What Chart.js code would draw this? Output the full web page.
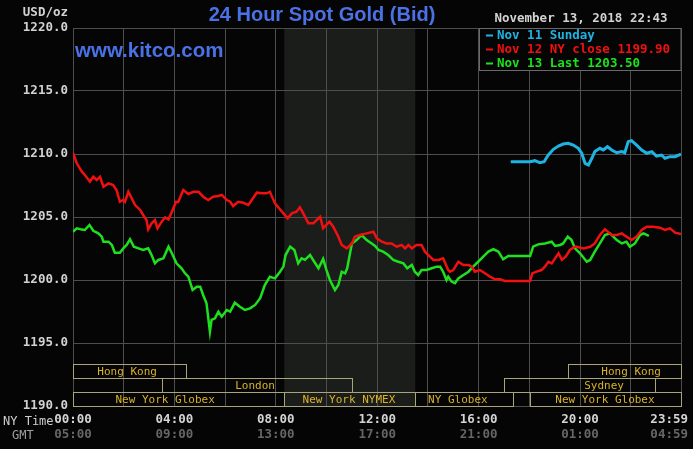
<!DOCTYPE html>
<html>
<head>
<meta charset="utf-8">
<script src="https://cdn.jsdelivr.net/npm/chart.js@4"></script>
<style>
  html, body { margin: 0; padding: 0; background: #050505; overflow: hidden; }
  canvas { display: block; }
</style>
</head>
<body>
<canvas id="goldChart" width="693" height="449"></canvas>
<script>
// ======= DATA (minutes after 00:00 NY time, USD/oz) =======
const cyanLabel = 'Nov 11 Sunday';
const redLabel = 'Nov 12 NY close 1199.90';
const greenLabel = 'Nov 13 Last 1203.50';

const cyanTimes = [1036,1082,1093,1105,1115,1125,1137,1149,1160,1172,1184,1196,1204,1212,1220,1228,1235,1247,1255,1265,1275,1287,1299,1306,1314,1322,1334,1346,1358,1370,1381,1393,1401,1413,1425,1439];
const cyanValues = [1209.39,1209.39,1209.47,1209.31,1209.39,1209.92,1210.37,1210.63,1210.79,1210.85,1210.71,1210.45,1210.06,1209.26,1209.13,1209.66,1210.19,1210.45,1210.32,1210.58,1210.32,1210.10,1210.19,1210.10,1210.98,1211.06,1210.71,1210.32,1210.06,1210.19,1209.84,1209.92,1209.66,1209.79,1209.79,1210.00];

const redTimes = [0,9,21,28,40,48,56,64,72,84,95,103,111,119,123,131,139,147,159,166,174,178,186,194,200,210,218,226,234,244,249,261,273,285,297,308,320,332,344,352,364,372,379,391,403,415,423,435,447,458,466,478,490,498,508,518,529,537,545,557,569,581,585,592,607,616,628,636,648,660,667,679,695,711,719,731,742,754,766,778,786,794,802,813,825,833,841,853,865,876,888,892,900,912,924,936,944,951,963,975,987,999,1011,1022,1038,1082,1087,1097,1109,1117,1125,1133,1141,1149,1157,1166,1176,1188,1192,1208,1224,1235,1247,1259,1267,1275,1287,1299,1310,1322,1334,1346,1358,1373,1389,1401,1413,1425,1439];
const redValues = [1210.10,1209.26,1208.60,1208.33,1207.80,1208.20,1207.94,1208.20,1207.40,1207.67,1207.54,1207.14,1206.21,1206.35,1206.20,1207.00,1206.48,1205.95,1205.56,1205.16,1204.76,1204.02,1204.50,1204.76,1204.10,1204.63,1204.97,1204.80,1205.42,1206.21,1206.20,1207.14,1206.83,1207.00,1207.00,1206.61,1206.35,1206.61,1206.67,1206.75,1206.35,1206.21,1205.87,1206.21,1206.13,1205.95,1206.35,1206.93,1206.88,1206.88,1207.00,1206.08,1205.61,1205.29,1204.90,1205.29,1205.42,1205.77,1205.29,1204.50,1204.50,1204.90,1205.02,1204.10,1204.63,1204.23,1203.44,1202.78,1202.51,1202.90,1203.44,1203.57,1203.70,1203.83,1203.30,1203.04,1202.90,1202.90,1202.64,1202.78,1202.51,1202.78,1202.51,1202.78,1202.78,1202.25,1201.98,1201.59,1201.59,1201.72,1200.79,1200.66,1200.79,1201.45,1201.19,1201.19,1201.06,1200.66,1200.79,1200.53,1200.26,1200.05,1200.05,1199.92,1199.92,1199.92,1200.53,1200.66,1200.79,1201.06,1201.45,1201.32,1201.72,1202.12,1201.60,1201.85,1202.38,1202.64,1202.64,1202.51,1202.64,1202.90,1203.57,1204.02,1203.80,1203.57,1203.57,1203.70,1203.44,1203.17,1203.44,1203.97,1204.23,1204.23,1204.15,1203.97,1204.10,1203.76,1203.65];

const greenTimes = [0,9,21,28,39,48,60,68,72,84,92,99,111,119,127,135,144,155,166,178,186,194,202,214,226,234,245,257,265,273,283,293,301,308,316,324,328,336,344,352,364,372,383,395,407,419,431,443,454,466,478,490,498,503,514,524,533,541,549,561,571,581,592,600,608,620,628,636,644,649,660,671,683,695,707,715,723,734,746,758,770,782,791,802,809,817,825,837,849,861,869,876,884,888,896,904,912,924,936,947,959,971,983,995,1007,1018,1030,1082,1089,1101,1117,1133,1141,1153,1160,1171,1180,1188,1200,1216,1224,1235,1247,1259,1271,1287,1299,1310,1318,1330,1342,1350,1363];
const greenValues = [1203.83,1204.10,1204.00,1203.97,1204.37,1203.91,1203.70,1203.44,1203.04,1203.04,1202.78,1202.17,1202.17,1202.51,1202.78,1203.23,1202.64,1202.51,1202.38,1202.51,1201.98,1201.32,1201.59,1201.72,1202.64,1202.12,1201.32,1200.93,1200.53,1200.26,1199.21,1199.47,1199.47,1198.81,1198.15,1195.90,1196.83,1196.96,1197.49,1197.09,1197.62,1197.49,1198.20,1197.88,1197.62,1197.75,1198.02,1198.55,1199.60,1200.26,1200.13,1200.66,1201.06,1201.98,1202.64,1202.38,1201.32,1201.72,1201.60,1201.98,1201.45,1200.93,1201.68,1200.79,1200.00,1199.21,1199.60,1200.66,1200.53,1200.93,1202.90,1203.17,1203.57,1203.17,1202.90,1202.70,1202.38,1202.25,1201.98,1201.59,1201.45,1201.32,1200.93,1201.19,1200.66,1200.40,1200.79,1200.79,1200.93,1201.06,1201.06,1200.66,1200.00,1200.26,1199.87,1199.74,1200.13,1200.40,1200.66,1201.06,1201.45,1201.85,1202.25,1202.44,1202.25,1201.64,1201.90,1201.90,1202.64,1202.83,1202.90,1203.04,1202.70,1202.78,1202.90,1203.44,1203.17,1202.51,1202.12,1201.45,1201.59,1202.25,1202.90,1203.57,1203.70,1203.17,1202.90,1203.04,1202.64,1202.90,1203.57,1203.70,1203.50];

// axis ticks
const gridMinutes = [0,120,240,360,480,600,720,840,960,1080,1200,1320,1439];
const labelMinutes = [0,240,480,720,960,1200,1439];
const nyLabels = ['00:00','04:00','08:00','12:00','16:00','20:00','23:59'];
const gmtLabels = ['05:00','09:00','13:00','17:00','21:00','01:00','04:59'];

// NYMEX pit hours (shaded)
const nymexOpen = 500;
const nymexClose = 810;

// market sessions (bottom boxes)
const sessionNames = ['Hong Kong','London','New York Globex','New York NYMEX','NY Globex','New York Globex','Sydney','Hong Kong'];
const sessionStart = [0,211,0,500,810,1082,1020,1172];
const sessionEnd = [267,660,500,810,1041,1439,1377,1439];
const sessionRow = [0,1,2,2,2,2,1,0];
const sessionLabelAt = [128,431,218,653,911,1259,1257,1321];

const toPoints = (t, v) => t.map((m, i) => ({ x: m, y: v[i] }));

const CYAN = '#1fb3e3';
const RED = '#f01010';
const GREEN = '#1ee01e';
const BLUE = '#4a72e6';
const MONO = '"DejaVu Sans Mono", "Liberation Mono", monospace';

// ======= EXTRA DRAWING (shading, titles, legend, sessions, time labels) =======
const kitcoPlugin = {
  id: 'kitco',
  beforeDraw(chart) {
    const { ctx, chartArea: a, scales: { x } } = chart;
    ctx.save();
    ctx.fillStyle = '#050505';
    ctx.fillRect(0, 0, chart.width, chart.height);
    const x1 = x.getPixelForValue(nymexOpen);
    const x2 = x.getPixelForValue(nymexClose);
    ctx.fillStyle = '#1b1d1b';
    ctx.fillRect(x1, a.top, x2 - x1, a.bottom - a.top);
    ctx.restore();
  },
  afterDraw(chart) {
    const { ctx, chartArea: a, scales: { x } } = chart;
    ctx.save();
    ctx.textBaseline = 'middle';

    // titles
    ctx.fillStyle = BLUE;
    ctx.font = 'bold 20px "Liberation Sans", Arial, sans-serif';
    ctx.textAlign = 'center';
    ctx.fillText('24 Hour Spot Gold (Bid)', 322, 15);
    ctx.textAlign = 'left';
    ctx.font = 'bold 20.5px "Liberation Sans", Arial, sans-serif';
    ctx.fillText('www.kitco.com', 75, 51);

    ctx.font = 'bold 12.5px ' + MONO;
    ctx.fillStyle = '#d2d2d2';
    ctx.textAlign = 'right';
    ctx.fillText('USD/oz', 68, 13);
    ctx.textAlign = 'center';
    ctx.fillText('November 13, 2018 22:43', 581, 19);

    // legend box
    ctx.fillStyle = '#050505';
    ctx.fillRect(479.5, 28.5, a.right - 479.5, 42);
    ctx.strokeStyle = '#6a6a6a';
    ctx.lineWidth = 1;
    ctx.strokeRect(479.5, 28.5, a.right - 479.5, 42);
    const legend = [[cyanLabel, CYAN], [redLabel, RED], [greenLabel, GREEN]];
    ctx.textAlign = 'left';
    legend.forEach(([txt, col], i) => {
      const y = 35.5 + i * 14;
      ctx.fillStyle = col;
      ctx.fillRect(486, y - 1, 7, 2);
      ctx.fillText(txt, 497, y);
    });

    // session boxes
    const rowTop = [364.5, 378.5, 392.5];
    ctx.font = '11px ' + MONO;
    sessionNames.forEach((name, i) => {
      const xs = Math.round(x.getPixelForValue(sessionStart[i])) + 0.5;
      const xe = Math.round(x.getPixelForValue(sessionEnd[i])) + 0.5;
      const top = rowTop[sessionRow[i]];
      ctx.strokeStyle = '#aaa47a';
      ctx.strokeRect(xs, top, xe - xs, 14);
      ctx.fillStyle = '#d9b22a';
      ctx.textAlign = 'center';
      ctx.fillText(name, x.getPixelForValue(sessionLabelAt[i]), top + 7.5);
    });

    // time labels
    ctx.fillStyle = '#cfcfcf';
    ctx.textAlign = 'left';
    ctx.font = '12px ' + MONO;
    ctx.fillText('NY Time', 3, 422);
    ctx.fillStyle = '#a0a0a0';
    ctx.fillText('GMT', 12, 436);
    ctx.font = 'bold 12.5px ' + MONO;
    labelMinutes.forEach((m, i) => {
      let px = x.getPixelForValue(m);
      const w = ctx.measureText(nyLabels[i]).width;
      px = Math.min(px, chart.width - 5 - w / 2);
      ctx.textAlign = 'center';
      ctx.fillStyle = '#d4d4d4';
      ctx.fillText(nyLabels[i], px, 420);
      ctx.fillStyle = '#666666';
      ctx.fillText(gmtLabels[i], px, 435);
    });
    ctx.restore();
  }
};

// ======= CHART =======
const ctx = document.getElementById('goldChart').getContext('2d');
new Chart(ctx, {
  type: 'line',
  data: {
    datasets: [
      { label: redLabel, data: toPoints(redTimes, redValues), borderColor: RED, borderWidth: 2.5 },
      { label: greenLabel, data: toPoints(greenTimes, greenValues), borderColor: GREEN, borderWidth: 2.5 },
      { label: cyanLabel, data: toPoints(cyanTimes, cyanValues), borderColor: CYAN, borderWidth: 3 }
    ]
  },
  options: {
    responsive: false,
    animation: false,
    devicePixelRatio: 1,
    layout: { padding: { left: 0, top: 28, right: 12, bottom: 43 } },
    elements: { point: { radius: 0 }, line: { tension: 0 } },
    plugins: { legend: { display: false }, tooltip: { enabled: false } },
    scales: {
      x: {
        type: 'linear',
        min: 0,
        max: 1439,
        afterBuildTicks: (s) => { s.ticks = gridMinutes.map(v => ({ value: v })); },
        ticks: { display: false },
        grid: { color: '#4e4e4e', drawTicks: false },
        border: { display: false }
      },
      y: {
        min: 1190,
        max: 1220,
        ticks: {
          stepSize: 5,
          color: '#d2d2d2',
          padding: 5,
          font: { family: MONO, size: 12.5, weight: 'bold' },
          callback: v => v.toFixed(1)
        },
        afterFit: (s) => { s.width = 73; },
        grid: { color: '#4e4e4e', drawTicks: false },
        border: { display: false }
      }
    }
  },
  plugins: [kitcoPlugin]
});
</script>
</body>
</html>
